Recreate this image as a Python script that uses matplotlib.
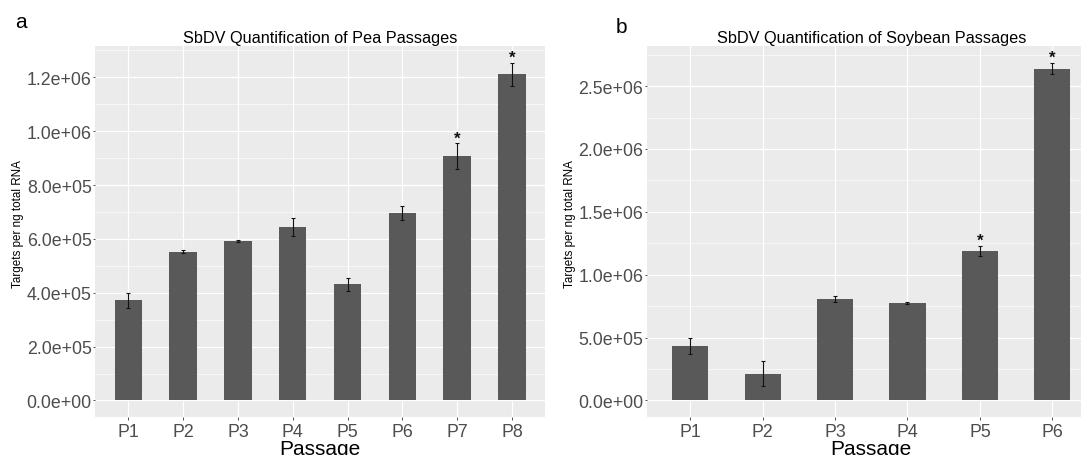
#!/usr/bin/env python3

import numpy as np
import matplotlib
matplotlib.use("Agg")
import matplotlib.pyplot as plt
from matplotlib.ticker import FixedLocator, FuncFormatter

################################################################################
# Data
################################################################################

pea_passages = ["P1", "P2", "P3", "P4", "P5", "P6", "P7", "P8"]
pea_means = [372e3, 553e3, 593e3, 643e3, 431e3, 696e3, 908e3, 1.211e6]
pea_errors = [28e3, 4e3, 3e3, 33e3, 24e3, 25e3, 48e3, 43e3]
pea_signif = [False, False, False, False, False, False, True, True]

soy_passages = ["P1", "P2", "P3", "P4", "P5", "P6"]
soy_means = [434e3, 214e3, 803e3, 778e3, 1.189e6, 2.639e6]
soy_errors = [65e3, 96e3, 24e3, 8e3, 41e3, 46e3]
soy_signif = [False, False, False, False, True, True]

pea_yticks = [0, 2e5, 4e5, 6e5, 8e5, 1.0e6, 1.2e6]
soy_yticks = [0, 5e5, 1.0e6, 1.5e6, 2.0e6, 2.5e6]

################################################################################
# Style (ggplot2 theme_grey look)
################################################################################

plt.rcParams["font.family"] = ["Liberation Sans", "DejaVu Sans"]

PANEL_BG = "#EBEBEB"
BAR_COLOR = "#595959"
TICK_TEXT = "#4D4D4D"
TICK_LINE = "#333333"

W, H = 1081, 456


def draw_panel(ax, labels, means, errors, signif, yticks, title):
    x = np.arange(len(labels))
    top = max(m + e for m, e in zip(means, errors))
    pad = 0.05 * top

    ax.set_facecolor(PANEL_BG)
    for s in ax.spines.values():
        s.set_visible(False)
    ax.set_axisbelow(True)

    ax.bar(x, means, width=0.5, color=BAR_COLOR, linewidth=0, zorder=2)
    ax.errorbar(x, means, yerr=errors, fmt="none", ecolor="#111111",
                elinewidth=0.8, capsize=1.3, capthick=0.8, zorder=3)

    # significance stars just above the error bars
    for xi, m, e, sig in zip(x, means, errors, signif):
        if sig:
            ax.annotate("*", (xi, m + e), xytext=(0, 0.5), textcoords="offset points",
                        ha="center", va="baseline", fontsize=12, fontweight="bold",
                        color="#111111", zorder=4)

    ax.set_xlim(-0.6, len(labels) - 0.4)
    ax.set_ylim(-pad, top + pad)

    ax.set_xticks(x)
    ax.set_xticklabels(labels)
    ax.yaxis.set_major_locator(FixedLocator(yticks))
    ax.yaxis.set_major_formatter(FuncFormatter(lambda v, p: f"{v:.1e}"))
    step = yticks[1] - yticks[0]
    minors = np.arange(yticks[0] - step / 2, top + pad + step, step)
    ax.yaxis.set_minor_locator(FixedLocator(minors))

    ax.grid(which="major", axis="both", color="white", linewidth=0.9)
    ax.grid(which="minor", axis="y", color="white", linewidth=0.45)
    ax.tick_params(axis="both", which="major", length=1.8, width=0.6, color=TICK_LINE,
                   labelcolor=TICK_TEXT, labelsize=12.8)
    ax.tick_params(axis="y", which="major", pad=0.8)
    ax.tick_params(axis="x", which="major", pad=2.4)
    ax.tick_params(which="minor", length=0)

    ax.set_title(title, fontsize=11.7, color="black", pad=3)
    ax.set_xlabel("Passage", fontsize=15, color="black", va="top")
    ax.xaxis.set_label_coords(0.5, -21.7 / 371.3)
    ax.set_ylabel("Targets per ng total RNA", fontsize=8.4, color="black")
    ax.yaxis.set_label_coords(-0.159, 0.523)


################################################################################
# Figure
################################################################################

fig = plt.figure(figsize=(W / 100, H / 100), dpi=100)
fig.patch.set_facecolor("white")

ax_pea = fig.add_axes([95.4 / W, 1 - 418.3 / H, 449.4 / W, 371.3 / H])
ax_soy = fig.add_axes([646.9 / W, 1 - 418.3 / H, 448.8 / W, 371.3 / H])

draw_panel(ax_pea, pea_passages, pea_means, pea_errors, pea_signif, pea_yticks,
           "SbDV Quantification of Pea Passages")
draw_panel(ax_soy, soy_passages, soy_means, soy_errors, soy_signif, soy_yticks,
           "SbDV Quantification of Soybean Passages")

fig.text(21 / W, 1 - 27.5 / H, "a", fontsize=15, ha="center", va="baseline")
fig.text(621 / W, 1 - 32.7 / H, "b", fontsize=15, ha="center", va="baseline")

fig.savefig("out.png", dpi=100)
